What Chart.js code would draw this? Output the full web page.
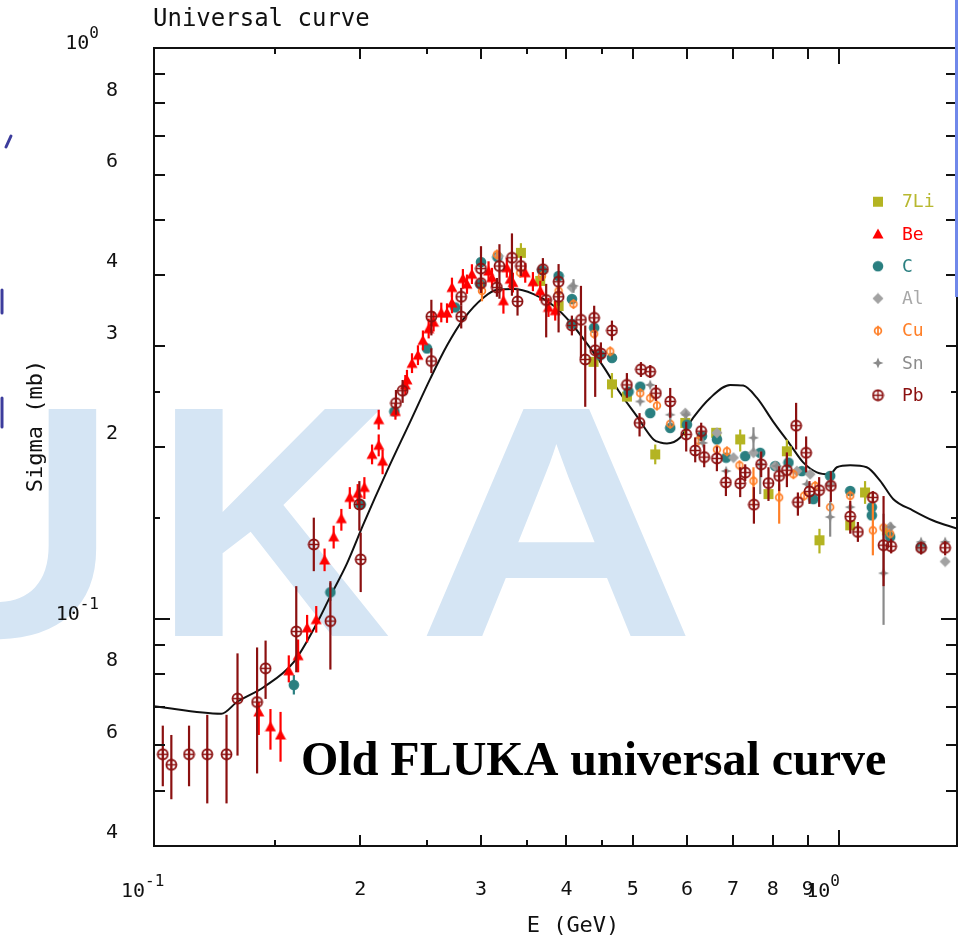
<!DOCTYPE html>
<html>
<head>
<meta charset="utf-8">
<title>Universal curve</title>
<script src="https://cdn.jsdelivr.net/npm/chart.js@4.4.1/dist/chart.umd.min.js"></script>
<style>
  html, body { margin: 0; padding: 0; background: #fff; }
  canvas { display: block; }
</style>
</head>
<body>
<canvas id="sigma-chart" width="966" height="937"></canvas>
<script>
// E in GeV, sigma in mb
const curveE = [0.100, 0.1254, 0.1322, 0.1445, 0.1598, 0.1730, 0.1809, 0.1913, 0.2023, 0.2189, 0.2367, 0.2532, 0.2678, 0.2831, 0.3028, 0.3168, 0.3349, 0.3581, 0.3831, 0.4052, 0.4285, 0.4531, 0.4792, 0.5069, 0.5359, 0.5482, 0.5607, 0.5863, 0.6124, 0.6483, 0.6934, 0.7244, 0.7586, 0.8011, 0.8481, 0.8861, 0.9279, 0.9703, 0.9923, 1.038, 1.097, 1.148, 1.199, 1.282, 1.371, 1.486];
const curveSigma = [0.0703, 0.0682, 0.0715, 0.0759, 0.0839, 0.0984, 0.1096, 0.1251, 0.1468, 0.1816, 0.2218, 0.2638, 0.3014, 0.3353, 0.3656, 0.3770, 0.3781, 0.3706, 0.3536, 0.3308, 0.3034, 0.2763, 0.2484, 0.2263, 0.2062, 0.2037, 0.2029, 0.2078, 0.2251, 0.2438, 0.2569, 0.2562, 0.2438, 0.2216, 0.2020, 0.1880, 0.1806, 0.1792, 0.1843, 0.1858, 0.1843, 0.1745, 0.1622, 0.1548, 0.1487, 0.1439];

const liE = [0.3432, 0.3662, 0.3895, 0.4380, 0.4660, 0.4900, 0.5390, 0.5962, 0.6615, 0.7171, 0.7886, 0.8389, 0.9360, 1.038, 1.091, 1.174];
const liSigma = [0.4377, 0.3908, 0.3532, 0.2820, 0.2575, 0.2451, 0.1941, 0.2204, 0.2118, 0.2062, 0.1654, 0.1966, 0.1373, 0.1458, 0.1665, 0.1429];
const liLo = [0.4191, null, null, null, 0.2439, null, 0.1865, 0.2087, null, 0.1964, null, 0.1876, 0.1302, null, 0.1590, null];
const liHi = [0.4551, null, null, null, 0.2695, null, 0.2020, 0.2293, null, 0.2146, null, 0.2060, 0.1438, null, 0.1743, null];

const beE = [0.1422, 0.1479, 0.1530, 0.1573, 0.1623, 0.1673, 0.1725, 0.1774, 0.1829, 0.1877, 0.1931, 0.1983, 0.2028, 0.2081, 0.2128, 0.2156, 0.2128, 0.2251, 0.2327, 0.2340, 0.2380, 0.2428, 0.2469, 0.2517, 0.2559, 0.2626, 0.2677, 0.2722, 0.2722, 0.2824, 0.2863, 0.2911, 0.3078, 0.3114, 0.3236, 0.3273, 0.3311, 0.3341, 0.3482, 0.3573, 0.3662, 0.3765, 0.3851];
const beSigma = [0.0687, 0.0647, 0.0626, 0.0811, 0.0862, 0.0964, 0.0997, 0.1268, 0.1392, 0.1498, 0.1632, 0.1659, 0.1699, 0.1941, 0.2014, 0.1889, 0.2233, 0.2308, 0.2569, 0.2622, 0.2802, 0.2896, 0.3074, 0.3222, 0.3309, 0.3435, 0.3435, 0.3574, 0.3805, 0.3944, 0.3857, 0.4014, 0.4067, 0.3960, 0.3608, 0.4122, 0.3935, 0.3882, 0.4040, 0.3896, 0.3755, 0.3512, 0.3466];
const beLo = [0.0626, 0.0590, 0.0562, 0.0774, 0.0806, 0.0909, 0.0946, 0.1212, 0.1328, 0.1427, 0.1558, 0.1590, 0.1622, 0.1865, 0.1926, 0.1792, 0.2146, 0.2233, 0.2468, 0.2507, 0.2695, 0.2783, 0.2954, 0.3099, 0.3187, 0.3307, 0.330, 0.343, 0.366, 0.379, 0.371, 0.386, 0.391, 0.381, 0.3425, 0.396, 0.378, 0.373, 0.388, 0.375, 0.361, 0.338, 0.333];
const beHi = [0.0715, 0.0695, 0.0687, 0.0863, 0.0920, 0.1016, 0.1053, 0.1328, 0.1456, 0.1558, 0.1701, 0.1722, 0.1771, 0.2020, 0.2104, 0.1980, 0.2324, 0.2390, 0.2674, 0.2730, 0.2919, 0.3014, 0.3200, 0.3357, 0.3453, 0.3580, 0.357, 0.372, 0.396, 0.410, 0.401, 0.418, 0.423, 0.412, 0.3785, 0.429, 0.409, 0.404, 0.420, 0.405, 0.391, 0.365, 0.361];

const cE = [0.1600, 0.1809, 0.2003, 0.2243, 0.2503, 0.2752, 0.3001, 0.2994, 0.3172, 0.3683, 0.3895, 0.4073, 0.4073, 0.4390, 0.4480, 0.4660, 0.4927, 0.5125, 0.5300, 0.5668, 0.5995, 0.6305, 0.6631, 0.6841, 0.7293, 0.7669, 0.8066, 0.8434, 0.8822, 0.9172, 0.9703, 1.038, 1.116, 1.116, 1.187, 1.317];
const cSigma = [0.0766, 0.1113, 0.1586, 0.2308, 0.2976, 0.3512, 0.4216, 0.3857, 0.4302, 0.4079, 0.3987, 0.3633, 0.3287, 0.3235, 0.2896, 0.2865, 0.2500, 0.2552, 0.2293, 0.2160, 0.2189, 0.2090, 0.2062, 0.1916, 0.1928, 0.1954, 0.1852, 0.1878, 0.1815, 0.1621, 0.1780, 0.1675, 0.1569, 0.1518, 0.1392, 0.1337];
const cLo = [0.0737, 0.1075];
const cHi = [0.0797, 0.1155];

const alE = [0.3183, 0.4073, 0.5962, 0.6631, 0.7011, 0.7498, 0.8066, 0.8674, 0.9072, 0.9703, 1.187, 1.317, 1.428];
const alSigma = [0.4319, 0.3805, 0.2293, 0.2118, 0.1916, 0.1954, 0.1852, 0.1815, 0.1792, 0.1722, 0.1449, 0.1323, 0.1260];

const cuE = [0.3011, 0.3166, 0.3424, 0.3683, 0.3895, 0.4095, 0.4390, 0.4633, 0.5125, 0.5300, 0.5421, 0.5668, 0.6233, 0.6631, 0.6858, 0.7154, 0.7498, 0.8175, 0.8576, 0.8890, 0.9226, 0.9703, 1.038, 1.120, 1.161, 1.187];
const cuSigma = [0.3755, 0.4348, 0.4040, 0.3987, 0.3755, 0.3560, 0.3158, 0.2942, 0.2485, 0.2436, 0.2364, 0.2196, 0.2053, 0.1980, 0.1966, 0.1858, 0.1745, 0.1632, 0.1792, 0.1643, 0.1710, 0.1569, 0.1643, 0.1429, 0.1445, 0.1410];
const cuLo = [0.3600, null, null, null, null, null, null, null, null, null, null, null, null, null, null, null, 0.1571, 0.1468, null, null, null, null, null, 0.1292, null, null];
const cuHi = [0.3900, null, null, null, null, null, null, null, null, null, null, null, null, null, null, null, 0.1843, 0.1722, null, null, null, null, null, 0.1654, null, null];

const snE = [0.4095, 0.5125, 0.5300, 0.5668, 0.5981, 0.6326, 0.6841, 0.7498, 0.7669, 0.8111, 0.8972, 0.9703, 1.038, 1.161, 1.191, 1.317, 1.428];
const snSigma = [0.3831, 0.2403, 0.2569, 0.2278, 0.2278, 0.2034, 0.1815, 0.2076, 0.1865, 0.1852, 0.1722, 0.1508, 0.1569, 0.1202, 0.1449, 0.1364, 0.1364];
const snLo = [0.3725, null, null, 0.2189, null, null, null, 0.1964, 0.1654, null, null, 0.1393, null, 0.0976, null, null, null];
const snHi = [0.3936, null, null, 0.2371, null, null, null, 0.2166, 0.1964, null, null, 0.1609, null, 0.1528, null, null, null];

const pbE = [0.103, 0.106, 0.1125, 0.1196, 0.1276, 0.1324, 0.1414, 0.1455, 0.1613, 0.1711, 0.1809, 0.1994, 0.2003, 0.2255, 0.2306, 0.254, 0.254, 0.2808, 0.2808, 0.3001, 0.3001, 0.3166, 0.3193, 0.333, 0.3393, 0.3432, 0.3695, 0.3736, 0.3895, 0.3895, 0.4073, 0.4199, 0.426, 0.439, 0.4405, 0.449, 0.466, 0.49, 0.5113, 0.5137, 0.53, 0.5402, 0.5668, 0.5981, 0.6165, 0.629, 0.6354, 0.6631, 0.6835, 0.7171, 0.7293, 0.7509, 0.7695, 0.7886, 0.8175, 0.8389, 0.8654, 0.8705, 0.895, 0.9051, 0.935, 0.9725, 1.038, 1.065, 1.12, 1.161, 1.191, 1.317, 1.428];
const pbSigma = [0.0579, 0.0555, 0.0579, 0.0579, 0.0579, 0.0725, 0.0715, 0.0819, 0.0950, 0.1350, 0.0991, 0.1586, 0.1271, 0.2387, 0.2510, 0.3384, 0.2829, 0.3666, 0.3384, 0.4107, 0.3873, 0.3805, 0.4150, 0.4290, 0.3598, 0.4150, 0.4096, 0.3618, 0.3896, 0.3666, 0.3265, 0.3340, 0.2847, 0.3367, 0.2954, 0.2916, 0.3200, 0.2569, 0.2204, 0.2736, 0.2710, 0.2485, 0.2403, 0.2104, 0.1972, 0.2132, 0.1920, 0.1910, 0.1734, 0.1727, 0.1804, 0.1585, 0.1865, 0.1729, 0.1780, 0.1821, 0.2180, 0.1601, 0.1954, 0.1672, 0.1680, 0.1710, 0.1511, 0.1420, 0.1632, 0.1346, 0.1340, 0.1332, 0.1332];
const pbLo = [0.0509, 0.0483, 0.0509, 0.0475, 0.0475, 0.0576, 0.0536, 0.0724, 0.0806, 0.1212, 0.0815, 0.1427, 0.1114, 0.2278, 0.2390, 0.3137, 0.2695, 0.3536, 0.3226, 0.3725, 0.3725, 0.3666, 0.3637, 0.3681, 0.3398, 0.3987, 0.3908, 0.3112, 0.3175, 0.3536, 0.3137, 0.2861, 0.2352, 0.3200, 0.2448, 0.2805, 0.3074, 0.2439, 0.2087, 0.2653, 0.2642, 0.2409, 0.2251, 0.1964, 0.1880, 0.2052, 0.1843, 0.1814, 0.1641, 0.1634, 0.1743, 0.1468, 0.1771, 0.1609, 0.1674, 0.1701, 0.1980, 0.1516, 0.1806, 0.1590, 0.1571, 0.1603, 0.1410, 0.1364, 0.1603, 0.1141, 0.1302, 0.1297, 0.1292];
const pbHi = [0.0650, 0.0626, 0.0650, 0.0679, 0.0679, 0.0870, 0.0891, 0.0916, 0.1141, 0.1504, 0.1164, 0.1743, 0.1416, 0.2517, 0.2621, 0.3622, 0.2978, 0.3800, 0.3536, 0.4496, 0.4019, 0.3955, 0.4532, 0.4734, 0.3785, 0.4319, 0.4285, 0.3862, 0.4183, 0.3800, 0.3398, 0.3831, 0.3265, 0.3536, 0.3200, 0.3050, 0.3330, 0.2695, 0.2293, 0.2817, 0.2783, 0.2569, 0.2538, 0.2215, 0.2079, 0.2206, 0.2020, 0.2004, 0.1828, 0.1843, 0.1865, 0.1701, 0.1964, 0.1843, 0.1850, 0.1957, 0.2390, 0.1665, 0.2087, 0.1743, 0.1771, 0.1814, 0.1609, 0.1478, 0.1674, 0.1641, 0.1382, 0.1364, 0.1368];

// axis ticks; "10^n" labels get a real superscript
const xTickValues = [0.1, 0.2, 0.3, 0.4, 0.5, 0.6, 0.7, 0.8, 0.9, 1.0];
const xTickLabels = ['10^-1', '2', '3', '4', '5', '6', '7', '8', '9', '10^0'];
const xMinorTicks = [0.15, 0.25, 0.35, 0.45];
const yTickValues = [1, 0.8, 0.6, 0.4, 0.3, 0.2, 0.1, 0.08, 0.06, 0.04];
const yTickLabels = ['10^0', '8', '6', '4', '3', '2', '10^-1', '8', '6', '4'];
const yMajorTicks = [0.9, 0.8, 0.7, 0.6, 0.5, 0.4, 0.3, 0.2, 0.09, 0.08, 0.07, 0.06, 0.05];
const yMinorTicks = [0.25, 0.15];
const decadeTicks = [0.1, 1];

const MONO = '"DejaVu Sans Mono", monospace';

// marker glyphs, drawn once
function marker(size, paint) {
  const c = document.createElement('canvas');
  c.width = size; c.height = size;
  paint(c.getContext('2d'), size / 2);
  return c;
}
const colLi = '#b4b422', colBe = '#ff0000', colC = '#2a7f80', colAl = '#a2a2a2',
      colCu = '#ff7f27', colSn = '#8a8a8a', colPb = '#8b1010';

const mkLi = marker(12, (g) => { g.fillStyle = colLi; g.fillRect(1, 1, 10, 10); });
const mkBe = marker(12, (g, m) => {
  g.fillStyle = colBe; g.beginPath();
  g.moveTo(m, 0.5); g.lineTo(11.5, 10.5); g.lineTo(0.5, 10.5); g.closePath(); g.fill();
});
const mkC = marker(12, (g, m) => { g.fillStyle = colC; g.beginPath(); g.arc(m, m, 5.3, 0, Math.PI * 2); g.fill(); });
const mkAl = marker(12, (g, m) => {
  g.fillStyle = colAl; g.beginPath();
  g.moveTo(m, 0.5); g.lineTo(11.5, m); g.lineTo(m, 11.5); g.lineTo(0.5, m); g.closePath(); g.fill();
});
const mkCu = marker(12, (g, m) => {
  g.strokeStyle = colCu; g.lineWidth = 1.7;
  g.beginPath(); g.arc(m, m, 3.4, 0, Math.PI * 2); g.stroke();
  g.beginPath(); g.moveTo(m, 1); g.lineTo(m, 11); g.stroke();
});
const mkSn = marker(12, (g, m) => {
  g.fillStyle = colSn; g.beginPath();
  g.moveTo(m, 0.5); g.lineTo(m + 1.6, m - 1.6); g.lineTo(11.5, m); g.lineTo(m + 1.6, m + 1.6);
  g.lineTo(m, 11.5); g.lineTo(m - 1.6, m + 1.6); g.lineTo(0.5, m); g.lineTo(m - 1.6, m - 1.6);
  g.closePath(); g.fill();
});
const mkPb = marker(13, (g, m) => {
  g.strokeStyle = colPb; g.lineWidth = 1.8;
  g.beginPath(); g.arc(m, m, 5, 0, Math.PI * 2); g.stroke();
  g.lineWidth = 1.3; g.beginPath();
  g.moveTo(m - 5, m); g.lineTo(m + 5, m); g.moveTo(m, m - 5); g.lineTo(m, m + 5); g.stroke();
});

function series(label, color, textColor, style, E, S, lo, hi, order) {
  return {
    label, order, pointStyle: style, pointRadius: 6,
    backgroundColor: color, borderColor: color, textColor,
    data: E.map((e, i) => ({ x: e, y: S[i] })),
    errLo: lo, errHi: hi
  };
}

const datasets = [
  {
    type: 'line', label: 'universal curve', order: 9,
    data: curveE.map((e, i) => ({ x: e, y: curveSigma[i] })),
    borderColor: '#111', borderWidth: 2, pointRadius: 0,
    cubicInterpolationMode: 'monotone'
  },
  series('7Li', colLi, '#b8b830', mkLi, liE, liSigma, liLo, liHi, 7),
  series('Be', colBe, colBe, mkBe, beE, beSigma, beLo, beHi, 2),
  series('C', colC, colC, mkC, cE, cSigma, cLo, cHi, 6),
  series('Al', colAl, '#a8a8a8', mkAl, alE, alSigma, null, null, 5),
  series('Cu', colCu, colCu, mkCu, cuE, cuSigma, cuLo, cuHi, 4),
  series('Sn', colSn, '#8c8c8c', mkSn, snE, snSigma, snLo, snHi, 3),
  series('Pb', colPb, colPb, mkPb, pbE, pbSigma, pbLo, pbHi, 1)
];

// vertical error bars, drawn just under each dataset's markers
const errorBars = {
  id: 'errorBars',
  beforeDatasetDraw(chart, args) {
    const ds = chart.data.datasets[args.index];
    if (!ds.errLo) return;
    const { ctx, scales: { x, y } } = chart;
    ctx.save();
    ctx.strokeStyle = ds.borderColor;
    ctx.lineWidth = 2.2;
    ds.data.forEach((p, i) => {
      const lo = ds.errLo[i], hi = ds.errHi[i];
      if (lo == null || hi == null) return;
      const px = x.getPixelForValue(p.x);
      ctx.beginPath();
      ctx.moveTo(px, y.getPixelForValue(lo));
      ctx.lineTo(px, y.getPixelForValue(hi));
      ctx.stroke();
    });
    ctx.restore();
  }
};

// the faded "FLUKA" slide logo behind the plot
const backdrop = {
  id: 'backdrop',
  beforeDraw(chart) {
    const ctx = chart.ctx;
    ctx.save();
    ctx.fillStyle = '#d5e5f4';
    ctx.font = 'bold 330px "Liberation Sans", Arial, sans-serif';
    ctx.textBaseline = 'alphabetic';
    ctx.fillText('U', -122, 636);
    ctx.fillText('K', 153, 636);
    ctx.translate(417, 636);
    ctx.scale(1.17, 1);
    ctx.fillText('A', 0, 0);
    ctx.restore();
  }
};

const isPower = (lbl) => lbl.includes('^');
function tickLabel(values, labels, v) {
  return labels[values.findIndex(t => Math.abs(t - v) < 1e-9)];
}

// frame, inward tick marks, power-of-ten labels, titles, legend and slide marks
const decorations = {
  id: 'decorations',
  afterDraw(chart) {
    const { ctx, chartArea: a, scales: { x, y } } = chart;
    ctx.save();
    ctx.strokeStyle = '#111';
    ctx.lineWidth = 2;
    ctx.strokeRect(a.left, a.top, a.right - a.left, a.bottom - a.top);

    const xMarks = (vals, len) => vals.forEach(v => {
      const px = Math.round(x.getPixelForValue(v));
      ctx.beginPath();
      ctx.moveTo(px, a.bottom); ctx.lineTo(px, a.bottom - len);
      ctx.moveTo(px, a.top); ctx.lineTo(px, a.top + len);
      ctx.stroke();
    });
    const yMarks = (vals, len) => vals.forEach(v => {
      const py = Math.round(y.getPixelForValue(v));
      ctx.beginPath();
      ctx.moveTo(a.left, py); ctx.lineTo(a.left + len, py);
      ctx.moveTo(a.right, py); ctx.lineTo(a.right - len, py);
      ctx.stroke();
    });
    xMarks(decadeTicks, 16);
    xMarks(xTickValues.slice(1, -1), 11);
    xMarks(xMinorTicks, 6);
    yMarks(decadeTicks, 16);
    yMarks(yMajorTicks, 11);
    yMarks(yMinorTicks, 6);

    // 10^n tick labels
    ctx.fillStyle = '#111';
    ctx.textBaseline = 'alphabetic';
    ctx.textAlign = 'left';
    const SUP = '16px ' + MONO, BASE = '20px ' + MONO;
    const drawPower = (lbl, left, base) => {
      const [m, e] = lbl.split('^');
      ctx.font = BASE;
      ctx.fillText(m, left, base);
      const w = ctx.measureText(m).width;
      ctx.font = SUP;
      ctx.fillText(e, left + w, base - 11);
    };
    xTickValues.forEach((v, i) => {
      if (!isPower(xTickLabels[i])) return;
      drawPower(xTickLabels[i], x.getPixelForValue(v) - 33, 897);
    });
    yTickValues.forEach((v, i) => {
      const lbl = yTickLabels[i];
      if (!isPower(lbl)) return;
      const [m, e] = lbl.split('^');
      ctx.font = SUP;
      const we = ctx.measureText(e).width;
      ctx.font = BASE;
      const wm = ctx.measureText(m).width;
      drawPower(lbl, 99 - we - wm, Math.round(y.getPixelForValue(v)) + 1);
    });

    ctx.font = '24px ' + MONO;
    ctx.textAlign = 'left';
    ctx.fillText('Universal curve', a.left - 1, 26);

    ctx.font = '22px ' + MONO;
    ctx.textAlign = 'center';
    ctx.fillText('E (GeV)', 573, 932);
    ctx.save();
    ctx.translate(42, 426);
    ctx.rotate(-Math.PI / 2);
    ctx.fillText('Sigma (mb)', 0, 0);
    ctx.restore();

    ctx.fillStyle = '#000';
    ctx.textAlign = 'left';
    ctx.font = 'bold 48px "Liberation Serif", "Times New Roman", serif';
    ctx.fillText('Old FLUKA universal curve', 301, 775);

    // legend
    ctx.font = '18px ' + MONO;
    ctx.textBaseline = 'middle';
    chart.data.datasets.slice(1).forEach((ds, i) => {
      const cy = 201.7 + i * 32.25;
      const img = ds.pointStyle;
      ctx.drawImage(img, 878 - img.width / 2, cy - img.height / 2);
      ctx.fillStyle = ds.textColor;
      ctx.fillText(ds.label, 902, cy + 1);
    });

    // pen marks left on the slide
    ctx.strokeStyle = '#3c3c9c';
    ctx.lineWidth = 3;
    ctx.lineCap = 'round';
    ctx.beginPath();
    ctx.moveTo(11, 136); ctx.lineTo(6, 147);
    ctx.moveTo(2, 290); ctx.lineTo(2, 313);
    ctx.moveTo(2, 398); ctx.lineTo(2, 427);
    ctx.stroke();
    ctx.fillStyle = '#7088ea';
    ctx.fillRect(955, 0, 3, 297);
    ctx.restore();
  }
};

new Chart(document.getElementById('sigma-chart'), {
  type: 'scatter',
  data: { datasets },
  options: {
    responsive: false,
    animation: false,
    events: [],
    layout: { padding: { left: 0, right: 9, top: 40, bottom: 0 } },
    plugins: {
      legend: { display: false },
      tooltip: { enabled: false },
      title: { display: false }
    },
    scales: {
      x: {
        type: 'logarithmic',
        position: 'bottom',
        min: 0.1,
        max: 1.486,
        grid: { display: false, drawTicks: false },
        border: { display: false },
        afterBuildTicks: s => { s.ticks = xTickValues.map(v => ({ value: v })); },
        afterFit: s => { s.height = 91; },
        ticks: {
          autoSkip: false, maxRotation: 0, minRotation: 0,
          padding: 32, color: '#111',
          font: { family: MONO, size: 20 },
          callback: (v) => {
            const lbl = tickLabel(xTickValues, xTickLabels, v);
            return isPower(lbl) ? '' : lbl;
          }
        }
      },
      y: {
        type: 'logarithmic',
        position: 'left',
        min: 0.04,
        max: 1,
        grid: { display: false, drawTicks: false },
        border: { display: false },
        afterBuildTicks: s => { s.ticks = yTickValues.map(v => ({ value: v })); },
        afterFit: s => { s.width = 154; },
        ticks: {
          autoSkip: false, padding: 36, labelOffset: -13, color: '#111',
          font: { family: MONO, size: 20 },
          callback: (v) => {
            const lbl = tickLabel(yTickValues, yTickLabels, v);
            return isPower(lbl) ? '' : lbl;
          }
        }
      }
    }
  },
  plugins: [backdrop, errorBars, decorations]
});
</script>
</body>
</html>
